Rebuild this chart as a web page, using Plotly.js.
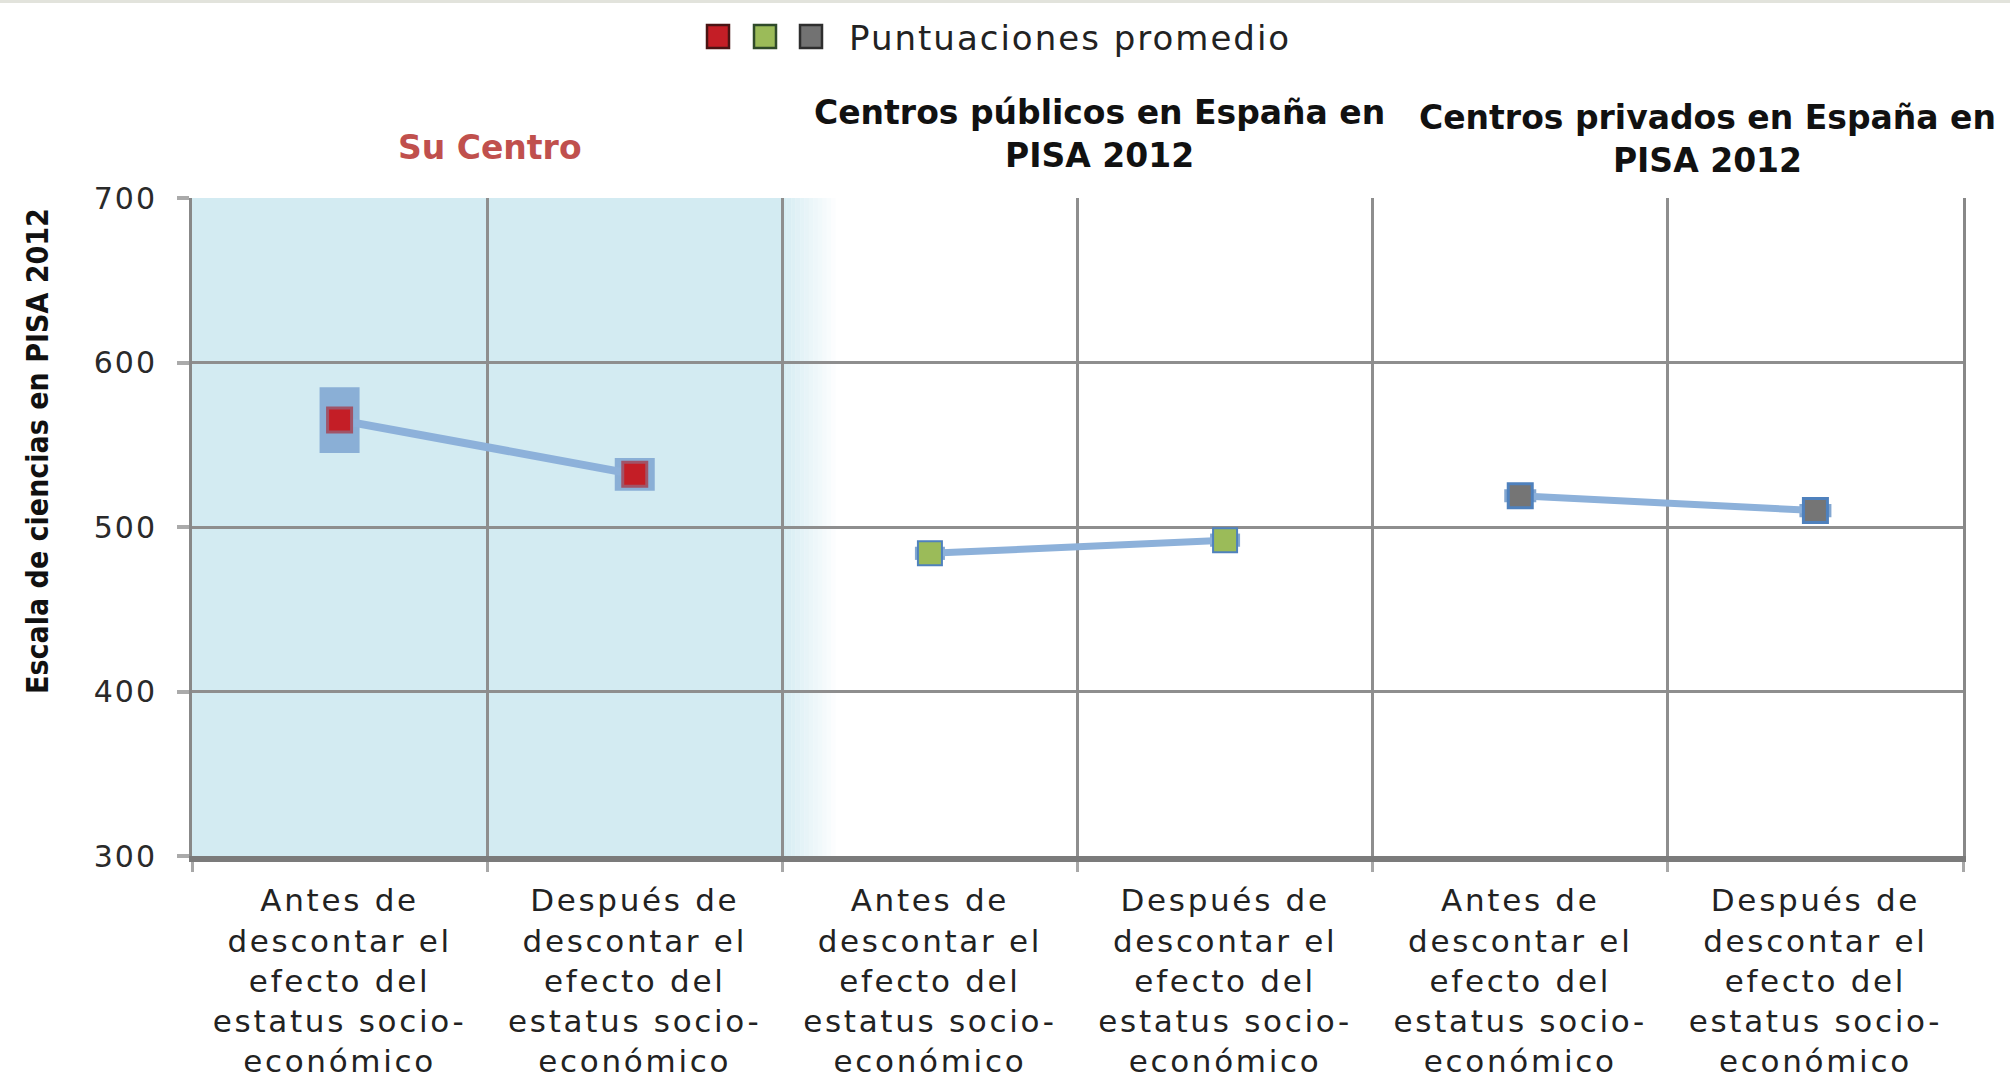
<!DOCTYPE html>
<html>
<head>
<meta charset="utf-8">
<script src="https://cdn.plot.ly/plotly-3.0.1.min.js"></script>
<style>
html,body{margin:0;padding:0;background:#fff;}
#chart{width:2010px;height:1080px;}
#chart .xtick text{letter-spacing:2.7px;}
#chart .ytick text{letter-spacing:2px;}
#chart .annotation[data-index="0"] text{letter-spacing:2px;}
</style>
</head>
<body>
<div id="chart"></div>
<script>
// ---- data ----
const categories = [
  "Antes de<br>descontar el<br>efecto del<br>estatus socio-<br>económico",
  "Después de<br>descontar el<br>efecto del<br>estatus socio-<br>económico",
  "Antes de<br>descontar el<br>efecto del<br>estatus socio-<br>económico",
  "Después de<br>descontar el<br>efecto del<br>estatus socio-<br>económico",
  "Antes de<br>descontar el<br>efecto del<br>estatus socio-<br>económico",
  "Después de<br>descontar el<br>efecto del<br>estatus socio-<br>económico"
];
const groupTitles = ["Su Centro", "Centros públicos en España en<br>PISA 2012", "Centros privados en España en<br>PISA 2012"];
const suCentro = [565, 532];
const suCentroErr = [20, 10];
const publicos = [484, 492];
const publicosErr = [4, 4];
const privados = [519, 510];
const privadosErr = [4, 4];
const yTicks = [300, 400, 500, 600, 700];
const yTitle = "Escala de ciencias en PISA 2012";
const legendText = "Puntuaciones promedio";

// ---- layout helpers ----
const W = 2010, H = 1080;
const L = 192, R = 1963, T = 198, B = 856;
const px = v => (v - L) / (R - L);
const py = v => (B - v) / (B - T);
const FONT = '"DejaVu Sans", "Open Sans", sans-serif';

const idx = categories.map((_, i) => i);
const bounds = idx.map(i => i - 0.5).concat([categories.length - 0.5]);

function grp(vals, errs, start, fill, lw, mlc, mlw, errCol, errThick) {
  return {
    type: 'scatter', mode: 'lines+markers',
    x: [idx[start], idx[start + 1]], y: vals,
    line: {color: '#8db1da', width: lw},
    marker: {symbol: 'square', size: 24, color: fill, line: {color: mlc, width: mlw}},
    error_y: {type: 'data', array: errs, visible: true, color: errCol, thickness: errThick, width: 0},
    showlegend: false, hoverinfo: 'y'
  };
}

const traces = [
  grp(suCentro, suCentroErr, 0, '#c41e26', 8, '#a05468', 3, '#8aafd6', 40),
  grp(publicos, publicosErr, 2, '#9bbb59', 7, '#4f81bd', 2, 'rgba(79,129,189,0.7)', 30),
  grp(privados, privadosErr, 4, '#757575', 7, '#4f81bd', 3, 'rgba(79,129,189,0.7)', 32)
];

const shapes = [];
// Su Centro background
shapes.push({type: 'rect', xref: 'x', yref: 'paper', x0: bounds[0], x1: bounds[2], y0: 0, y1: 1,
  fillcolor: '#d3ebf2', line: {width: 0}, layer: 'below'});
// gradient fade
const steps = 12;
for (let s = 0; s < steps; s++) {
  const a = 1 - (s + 1) / (steps + 1);
  shapes.push({type: 'rect', xref: 'x', yref: 'paper',
    x0: bounds[2] + s * 0.015, x1: bounds[2] + (s + 1) * 0.015, y0: 0, y1: 1,
    fillcolor: 'rgba(211,235,242,' + a.toFixed(3) + ')', line: {width: 0}, layer: 'below'});
}
// top thin strip
shapes.push({type: 'rect', xref: 'paper', yref: 'paper', x0: px(0), x1: px(W), y0: py(0), y1: py(3),
  fillcolor: '#e2e3dc', line: {width: 0}});
// legend squares
const legCols = [['#c41e26', '#4a1414'], ['#9bbb59', '#2f4a2a'], ['#727272', '#2e2e2e']];
const legX = [718, 765, 811];
legCols.forEach((c, i) => {
  shapes.push({type: 'rect', xref: 'paper', yref: 'paper',
    x0: px(legX[i] - 11), x1: px(legX[i] + 11), y0: py(48), y1: py(25),
    fillcolor: c[0], line: {color: c[1], width: 2.5}});
});

const annotations = [
  {text: legendText, xref: 'paper', yref: 'paper', x: px(868), y: py(38), xanchor: 'left', yanchor: 'middle',
   showarrow: false, font: {family: FONT, size: 34, color: '#222'}},
  {text: '<b>' + yTitle + '</b>', xref: 'paper', yref: 'paper', x: px(37), y: py(451), textangle: -90,
   xanchor: 'center', yanchor: 'middle', showarrow: false,
   font: {family: '"Liberation Sans Narrow", "DejaVu Sans Condensed", sans-serif', size: 30, color: '#111'}},
  {text: '<b>' + groupTitles[0] + '</b>', xref: 'x', yref: 'paper', x: 0.5, y: py(147), xshift: 3,
   xanchor: 'center', yanchor: 'middle', showarrow: false, font: {family: FONT, size: 33, color: '#c0504d'}},
  {text: '<b>' + groupTitles[1] + '</b>', xref: 'x', yref: 'paper', x: 2.5, y: py(134), xshift: 22,
   xanchor: 'center', yanchor: 'middle', showarrow: false, font: {family: FONT, size: 33, color: '#111'}},
  {text: '<b>' + groupTitles[2] + '</b>', xref: 'x', yref: 'paper', x: 4.5, y: py(139), xshift: 40,
   xanchor: 'center', yanchor: 'middle', showarrow: false, font: {family: FONT, size: 33, color: '#111'}}
];

const layout = {
  width: W, height: H,
  margin: {l: L, r: W - R, t: T, b: H - B, pad: 0},
  paper_bgcolor: '#ffffff', plot_bgcolor: '#ffffff',
  showlegend: false,
  xaxis: {
    range: [bounds[0], bounds[bounds.length - 1]],
    tickmode: 'array', tickvals: idx, ticktext: categories,
    ticks: '', showgrid: false, zeroline: false,
    showline: true, linecolor: '#7b7b7b', linewidth: 6,
    tickfont: {family: FONT, size: 31, color: '#222'},
    ticklabelstandoff: 12,
    minor: {tickvals: bounds, showgrid: true, gridcolor: '#8e8e8e', gridwidth: 3,
            ticks: 'outside', ticklen: 10, tickcolor: '#a8a8a8', tickwidth: 3}
  },
  yaxis: {
    range: [yTicks[0], yTicks[yTicks.length - 1]],
    tickmode: 'array', tickvals: yTicks, ticktext: yTicks.map(String),
    showgrid: true, gridcolor: '#8e8e8e', gridwidth: 3, zeroline: false,
    showline: true, mirror: true, linecolor: '#888888', linewidth: 3,
    ticks: 'outside', ticklen: 12, tickcolor: '#aaaaaa', tickwidth: 4,
    ticklabelstandoff: 14,
    tickfont: {family: FONT, size: 30, color: '#2a2a2a'}
  },
  shapes: shapes,
  annotations: annotations
};

Plotly.newPlot('chart', traces, layout, {displayModeBar: false, staticPlot: true});
</script>
</body>
</html>
